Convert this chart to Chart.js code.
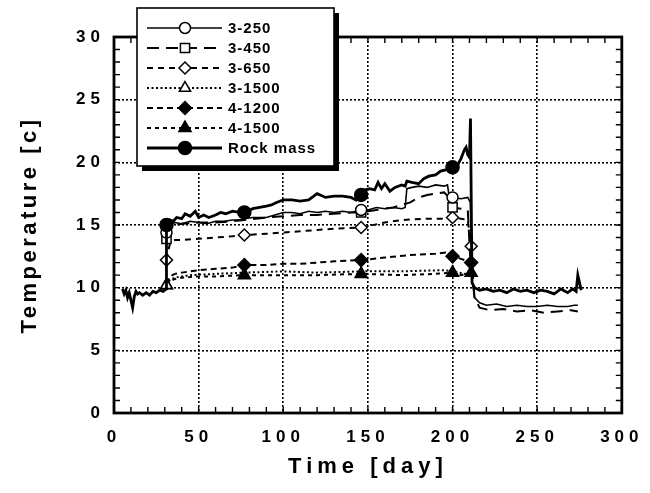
<!DOCTYPE html>
<html><head><meta charset="utf-8">
<script src="https://cdn.jsdelivr.net/npm/chart.js@4.4.0/dist/chart.umd.min.js"></script>
<style>html,body{margin:0;padding:0;background:#fff;}canvas{display:block;}</style>
</head><body>
<canvas id="c" width="650" height="493"></canvas>
<script>
// ---- axis ticks ----
const xTickValues = [0, 50, 100, 150, 200, 250, 300];
const yTickValues = [0, 5, 10, 15, 20, 25, 30];

// ---- series (day, temperature °C) ----
const rockDays = [5,6,7,8,9,10,11,12,13,14,15,17,19,21,23,25,27,29,30.8,31,33,35,37,40,42,45,48,50,53,56,60,63,66,70,74,77,82,86,90,93,96,100,105,110,115,120,125,130,135,140,143,146,148,151,154,156,158,160,163,166,170,172,173,176,180,183,186,190,193,196,200,203,205,207,208,209,210,210.6,211.5,213,216,220,224,228,232,236,240,244,248,252,256,260,264,268,271,273,274,276];
const rockTemp = [9.9,9.5,9.8,9.2,9.6,9.0,8.4,9.3,9.7,9.5,9.6,9.4,9.6,9.4,9.7,9.6,9.8,9.7,9.9,15.0,15.4,15.3,15.6,15.5,15.9,15.7,16.1,15.6,15.8,15.6,15.8,16.0,15.9,16.1,16.0,16.0,16.3,16.4,16.5,16.6,16.8,17.0,17.0,16.9,17.0,17.5,17.2,17.3,17.3,17.2,17.0,17.4,17.8,17.9,17.8,18.4,17.9,18.3,17.7,18.0,18.2,18.1,18.5,18.4,18.3,18.7,18.9,19.0,19.3,19.4,19.6,19.8,20.3,21.0,21.2,20.6,20.4,23.5,10.4,10.0,9.8,9.9,9.7,9.8,9.6,9.9,9.7,9.8,9.6,9.8,9.7,9.5,9.9,9.6,9.9,9.7,11.0,9.8];
const rockMarks = [31, 77, 146, 200];

const s3_250Days = [31,33,36,40,45,50,55,60,65,70,74,77,82,86,90,95,100,105,110,115,120,125,130,135,140,146,150,155,160,165,170,172,173,176,180,185,190,195,197,198,200,205,209,210.5,211.5,213,216,220,226,232,238,244,250,256,262,268,272,274];
const s3_250Temp = [14.4,15.0,15.2,15.1,15.3,15.2,15.1,15.3,15.3,15.4,15.4,15.5,15.6,15.6,15.6,15.8,16.0,16.0,15.9,16.1,16.0,16.1,16.0,16.1,16.0,16.2,16.2,16.4,16.3,16.4,16.3,16.4,17.9,18.0,18.1,18.0,18.2,18.1,18.2,17.3,17.2,17.1,17.2,16.8,10.6,9.2,8.8,8.6,8.7,8.5,8.6,8.5,8.5,8.6,8.5,8.5,8.6,8.6];
const s3_250Marks = [31, 146, 200];

const s3_450Days = [31,33,36,40,50,60,70,77,90,100,110,120,130,140,146,155,165,175,180,185,190,195,198,200,205,209,210.5,211.5,213,216,222,230,238,246,254,262,270,274];
const s3_450Temp = [13.9,14.6,15.0,15.1,15.2,15.2,15.3,15.4,15.6,15.7,15.8,15.8,15.9,16.0,16.0,16.2,16.4,16.8,17.2,17.4,17.5,17.6,17.2,16.4,16.3,16.2,12.2,11.9,9.2,8.4,8.2,8.3,8.1,8.2,8.0,8.1,8.2,8.1];
const s3_450Marks = [31, 146, 200];

const s3_650Days = [31,33,36,40,50,60,70,77,90,100,110,120,130,146,160,170,185,195,200,205,209,211];
const s3_650Temp = [12.2,13.5,13.8,13.8,13.9,14.0,14.1,14.2,14.3,14.4,14.5,14.6,14.7,14.8,15.2,15.4,15.5,15.5,15.6,15.5,15.4,13.3];
const s3_650Marks = [31, 77, 146, 200, 211];

const s3_1500Days = [31,33,36,45,60,77,100,120,146,170,195,200,211];
const s3_1500Temp = [10.2,10.6,10.8,11.0,11.1,11.2,11.3,11.2,11.3,11.3,11.4,11.3,11.0];
const s3_1500Marks = [31];

const s4_1200Days = [31,33,36,40,50,60,70,77,90,100,110,120,130,146,160,175,190,196,200,205,209,211];
const s4_1200Temp = [10.3,10.9,11.1,11.2,11.4,11.5,11.6,11.8,11.8,11.9,11.9,12.0,12.1,12.2,12.4,12.6,12.7,12.8,12.5,12.3,12.1,12.0];
const s4_1200Marks = [77, 146, 200, 211];

const s4_1500Days = [31,33,36,40,50,60,77,90,100,120,146,170,190,200,205,211];
const s4_1500Temp = [10.2,10.5,10.7,10.8,10.9,10.9,11.0,11.0,11.0,11.0,11.1,11.0,11.1,11.2,11.0,11.2];
const s4_1500Marks = [31, 77, 146, 200, 211];

const seriesLabels = ['3-250','3-450','3-650','3-1500','4-1200','4-1500','Rock mass'];

function pts(days, temps) { return days.map((d, i) => ({x: d, y: temps[i]})); }

function makeSet(label, days, temps, marks, style) {
  return Object.assign({
    label: label,
    data: pts(days, temps),
    borderColor: '#000',
    pointBorderColor: '#000',
    pointBorderWidth: 1.5,
    fill: false,
    tension: 0,
    order: 1,
    pointRadius: (ctx) => (ctx.raw && marks.includes(ctx.raw.x)) ? style.markSize : 0,
    pointHoverRadius: (ctx) => (ctx.raw && marks.includes(ctx.raw.x)) ? style.markSize : 0
  }, style);
}

const datasets = [
  makeSet(seriesLabels[0], s3_250Days, s3_250Temp, s3_250Marks, {borderWidth: 1.6, borderDash: [], pointStyle: 'circle', pointBackgroundColor: '#fff', markSize: 5.5}),
  makeSet(seriesLabels[1], s3_450Days, s3_450Temp, s3_450Marks, {borderWidth: 2, borderDash: [12, 7], pointStyle: 'rect', pointBackgroundColor: '#fff', markSize: 6.5}),
  makeSet(seriesLabels[2], s3_650Days, s3_650Temp, s3_650Marks, {borderWidth: 2, borderDash: [6, 5], pointStyle: 'rectRot', pointBackgroundColor: '#fff', markSize: 6}),
  makeSet(seriesLabels[3], s3_1500Days, s3_1500Temp, s3_1500Marks, {borderWidth: 2, borderDash: [2, 2.5], pointStyle: 'triangle', pointBackgroundColor: '#fff', markSize: 6.5}),
  makeSet(seriesLabels[4], s4_1200Days, s4_1200Temp, s4_1200Marks, {borderWidth: 2, borderDash: [6, 4], pointStyle: 'rectRot', pointBackgroundColor: '#000', markSize: 6.5}),
  makeSet(seriesLabels[5], s4_1500Days, s4_1500Temp, s4_1500Marks, {borderWidth: 2, borderDash: [4, 4], pointStyle: 'triangle', pointBackgroundColor: '#000', markSize: 7}),
  Object.assign(makeSet(seriesLabels[6], rockDays, rockTemp, rockMarks, {borderWidth: 2.8, borderDash: [], pointStyle: 'circle', pointBackgroundColor: '#000', markSize: 6.5}), {order: 0})
];

const spacingPlugin = {
  id: 'spacing',
  beforeDraw(chart) {
    const ctx = chart.ctx;
    ctx.letterSpacing = '5px';
    const ys = chart.scales.y;
    if (!ys._titlePatched) {
      const orig = ys.drawTitle;
      ys.drawTitle = function () {
        ctx.letterSpacing = '3.5px';
        orig.call(this);
        ctx.letterSpacing = '5px';
      };
      ys._titlePatched = true;
    }
  }
};

const framePlugin = {
  id: 'frame',
  afterDatasetsDraw(chart) {
    const {ctx, chartArea: a, scales: {x, y}} = chart;
    ctx.save();
    ctx.letterSpacing = '0px';
    ctx.strokeStyle = '#000';
    ctx.lineWidth = 1.4;
    ctx.setLineDash([]);
    ctx.beginPath();
    for (let d = 10; d < 300; d += 10) {
      const px = x.getPixelForValue(d);
      ctx.moveTo(px, a.bottom); ctx.lineTo(px, a.bottom - 6);
      ctx.moveTo(px, a.top); ctx.lineTo(px, a.top + 6);
    }
    for (let t = 1; t < 30; t += 1) {
      const py = y.getPixelForValue(t);
      ctx.moveTo(a.left, py); ctx.lineTo(a.left + 6, py);
      ctx.moveTo(a.right, py); ctx.lineTo(a.right - 6, py);
    }
    ctx.stroke();
    ctx.lineWidth = 2.8;
    ctx.strokeRect(a.left, a.top, a.right - a.left, a.bottom - a.top);
    ctx.restore();
  }
};

const legendPlugin = {
  id: 'boxLegend',
  afterDraw(chart) {
    const ctx = chart.ctx;
    ctx.save();
    const L = 137, T = 8, R = 334, B = 166;
    ctx.fillStyle = '#000';
    ctx.fillRect(L + 5, T + 5, R - L, B - T);
    ctx.fillStyle = '#fff';
    ctx.fillRect(L, T, R - L, B - T);
    ctx.strokeStyle = '#000';
    ctx.lineWidth = 1.6;
    ctx.setLineDash([]);
    ctx.strokeRect(L, T, R - L, B - T);
    chart.data.datasets.forEach((ds, i) => {
      const yy = T + 20 + 20 * i;
      ctx.setLineDash(ds.borderDash || []);
      ctx.lineWidth = ds.borderWidth;
      ctx.strokeStyle = '#000';
      ctx.beginPath(); ctx.moveTo(147, yy); ctx.lineTo(222, yy); ctx.stroke();
      ctx.setLineDash([]);
      ctx.fillStyle = ds.pointBackgroundColor;
      ctx.lineWidth = 1.5;
      Chart.helpers.drawPoint(ctx, {pointStyle: ds.pointStyle, radius: ds.markSize, rotation: 0, borderWidth: 1.5}, 185, yy);
      ctx.fillStyle = '#000';
      ctx.font = 'bold 15px "Liberation Sans", Arial, sans-serif';
      ctx.letterSpacing = '1px';
      ctx.textAlign = 'left';
      ctx.textBaseline = 'middle';
      ctx.fillText(ds.label, 228, yy + 1);
    });
    ctx.restore();
  }
};

const tickFont = {family: '"Liberation Sans", Arial, sans-serif', weight: 'bold', size: 17};
const titleFont = {family: '"Liberation Sans", Arial, sans-serif', weight: 'bold', size: 22};

new Chart(document.getElementById('c'), {
  type: 'line',
  data: {datasets: datasets},
  options: {
    responsive: false,
    animation: false,
    devicePixelRatio: 1,
    layout: {padding: {top: 37, right: 27, left: 0, bottom: 0}},
    plugins: {legend: {display: false}, tooltip: {enabled: false}},
    scales: {
      x: {
        type: 'linear', min: xTickValues[0], max: xTickValues[xTickValues.length - 1],
        afterFit(s) { s.height = 80; },
        afterBuildTicks(s) { s.ticks = xTickValues.map(v => ({value: v})); },
        ticks: {font: tickFont, color: '#000', padding: 14, maxRotation: 0, autoSkip: false},
        grid: {color: '#000', lineWidth: 1.6, drawTicks: false},
        border: {display: false, dash: [2, 2]},
        title: {display: true, text: 'Time [day]', font: titleFont, color: '#000', padding: {top: 0, bottom: 13}}
      },
      y: {
        type: 'linear', min: yTickValues[0], max: yTickValues[yTickValues.length - 1],
        afterFit(s) { s.width = 114; },
        afterBuildTicks(s) { s.ticks = yTickValues.map(v => ({value: v})); },
        ticks: {font: tickFont, color: '#000', padding: 9, autoSkip: false},
        grid: {color: '#000', lineWidth: 1.6, drawTicks: false},
        border: {display: false, dash: [2, 2]},
        title: {display: true, text: 'Temperature [c]', font: titleFont, color: '#000', padding: {top: 17, bottom: 0}}
      }
    }
  },
  plugins: [spacingPlugin, framePlugin, legendPlugin]
});
</script>
</body></html>
